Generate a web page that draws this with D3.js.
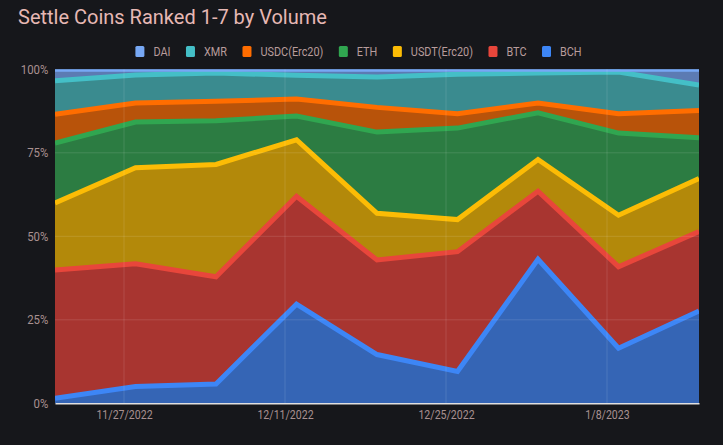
<!DOCTYPE html>
<html>
<head>
<meta charset="utf-8">
<script src="https://cdn.jsdelivr.net/npm/d3@7/dist/d3.min.js"></script>
<style>
  html, body { margin: 0; padding: 0; background: #16171b; }
  svg { display: block; }
</style>
</head>
<body>
<svg id="chart" width="723" height="445"></svg>
<script>
// ---- data (percent share of volume, per week) ----
const dates = ["2022-11-21","2022-11-28","2022-12-05","2022-12-12","2022-12-19","2022-12-26","2023-01-02","2023-01-09","2023-01-16"];
const BCH  = [1.5, 5.0, 5.8, 29.7, 14.6, 9.5, 43.1, 16.5, 27.6];
const BTC  = [38.4, 36.8, 32.1, 32.3, 28.3, 35.9, 20.4, 24.4, 23.8];
const USDT = [20.1, 28.7, 33.6, 16.9, 14.0, 9.6, 9.5, 15.4, 15.9];
const ETH  = [17.9, 13.7, 13.1, 7.1, 24.3, 27.4, 14.0, 24.6, 12.2];
const USDC = [8.6, 5.7, 5.8, 5.1, 7.4, 4.3, 2.9, 5.8, 8.2];
const XMR  = [10.1, 8.4, 8.5, 7.1, 9.1, 11.8, 9.0, 12.5, 7.6];
const DAI  = [3.4, 1.7, 1.1, 1.8, 2.3, 1.5, 1.1, 0.8, 4.7];
const seriesNames = ["BCH","BTC","USDT(Erc20)","ETH","USDC(Erc20)","XMR","DAI"];
const seriesValues = [BCH, BTC, USDT, ETH, USDC, XMR, DAI];
const xTickDates = ["2022-11-27","2022-12-11","2022-12-25","2023-01-08"];
const xTickLabels = ["11/27/2022","12/11/2022","12/25/2022","1/8/2023"];
const yTicks = [0, 25, 50, 75, 100];
const title = "Settle Coins Ranked 1-7 by Volume";

// ---- styles ----
const lineColors = {"BCH":"#3d86f6","BTC":"#e8463b","USDT(Erc20)":"#fcbc05","ETH":"#30a650","USDC(Erc20)":"#ff6d00","XMR":"#44bfc7","DAI":"#77a8f5"};
const fillColors = {"BCH":"#3565b5","BTC":"#a83530","USDT(Erc20)":"#b3890a","ETH":"#2c7c42","USDC(Erc20)":"#b8530a","XMR":"#3a8b8f","DAI":"#5c7bb3"};

const parse = d3.utcParse("%Y-%m-%d");
const rows = dates.map((d, i) => {
  const r = {date: parse(d)};
  seriesNames.forEach((n, j) => r[n] = seriesValues[j][i]);
  return r;
});

const svg = d3.select("#chart");
const W = 723, H = 445;
const m = {left: 55, right: 24, top: 69.3, bottom: 41.7};
const font = "Roboto, 'Noto Sans', sans-serif";
const squeeze = 0.87;

const x = d3.scaleUtc()
  .domain(d3.extent(rows, d => d.date))
  .range([m.left, W - m.right]);
const y = d3.scaleLinear().domain([0, 100]).range([H - m.bottom, m.top]);

const stack = d3.stack().keys(seriesNames);
const layers = stack(rows);

svg.append("defs").append("clipPath").attr("id", "clip")
  .append("rect")
  .attr("x", m.left).attr("y", m.top)
  .attr("width", W - m.left - m.right).attr("height", H - m.top - m.bottom);

// title
svg.append("text")
  .attr("x", 18).attr("y", 24)
  .attr("fill", "#e6b8b4")
  .style("font-family", font)
  .style("font-size", "20px")
  .text(title);

// legend (reverse order), condensed text
const legendItems = seriesNames.slice().reverse();
const legend = svg.append("g").attr("class", "legend");
let lx = 0;
const itemsG = legend.selectAll("g").data(legendItems).join("g");
itemsG.append("rect")
  .attr("width", 9).attr("height", 11).attr("rx", 1.5)
  .attr("y", -5.5)
  .attr("fill", d => lineColors[d]);
itemsG.append("text")
  .attr("transform", `translate(18,4.5) scale(${squeeze},1)`)
  .attr("fill", "#b89c9c")
  .style("font-family", font)
  .style("font-size", "12.5px")
  .text(d => d);
itemsG.each(function() {
  const g = d3.select(this);
  const tw = g.select("text").node().getComputedTextLength() * squeeze;
  g.attr("transform", `translate(${lx},0)`);
  lx += 18 + tw + 15.5;
});
const totalW = lx - 15.5;
legend.attr("transform", `translate(${358.5 - totalW / 2},51.5)`);

// areas
const area = d3.area()
  .x(d => x(d.data.date))
  .y0(d => y(d[0]))
  .y1(d => y(d[1]));
const line = d3.line()
  .x(d => x(d.data.date))
  .y(d => y(d[1]));

const plot = svg.append("g").attr("clip-path", "url(#clip)");
plot.selectAll("path.area").data(layers).join("path")
  .attr("class", "area")
  .attr("d", area)
  .attr("fill", d => fillColors[d.key]);

// gridlines
const grid = svg.append("g");
grid.selectAll("line.h").data(yTicks.filter(t => t > 0 && t < 100)).join("line")
  .attr("x1", m.left).attr("x2", W - m.right)
  .attr("y1", d => y(d)).attr("y2", d => y(d))
  .attr("stroke", "rgba(255,255,255,0.12)").attr("stroke-width", 1);
grid.selectAll("line.v").data(xTickDates.map(parse)).join("line")
  .attr("y1", m.top).attr("y2", H - m.bottom)
  .attr("x1", d => x(d)).attr("x2", d => x(d))
  .attr("stroke", "rgba(255,255,255,0.12)").attr("stroke-width", 1);

// top lines
plot.selectAll("path.line").data(layers).join("path")
  .attr("class", "line")
  .attr("d", line)
  .attr("fill", "none")
  .attr("stroke", d => lineColors[d.key])
  .attr("stroke-width", 5)
  .attr("stroke-linejoin", "miter");

// x axis
const xAxis = d3.axisBottom(x)
  .tickValues(xTickDates.map(parse))
  .tickFormat((d, i) => xTickLabels[i])
  .tickSize(0).tickPadding(7);
const xg = svg.append("g").attr("transform", `translate(0,${H - m.bottom})`).call(xAxis);
xg.select(".domain").attr("stroke", "#e0e0e0").attr("stroke-width", 1.5);
xg.selectAll(".tick text")
  .attr("fill", "#a89090")
  .style("font-family", font).style("font-size", "12px")
  .attr("transform", "scale(0.88,1)")
  .attr("x", function() { return 0; });
// keep tick labels centred on their tick after the horizontal squeeze
xg.selectAll(".tick").each(function(d) {
  d3.select(this).select("text").attr("transform", `scale(0.88,1)`);
});

// y axis
const yAxis = d3.axisLeft(y)
  .tickValues(yTicks)
  .tickFormat(d => d + "%")
  .tickSize(0).tickPadding(7);
const yg = svg.append("g").attr("transform", `translate(${m.left},0)`).call(yAxis);
yg.select(".domain").remove();
yg.selectAll("text").attr("fill", "#a89090").style("font-family", font).style("font-size", "12px")
  .attr("transform", "scale(0.95,1)");
</script>
</body>
</html>
